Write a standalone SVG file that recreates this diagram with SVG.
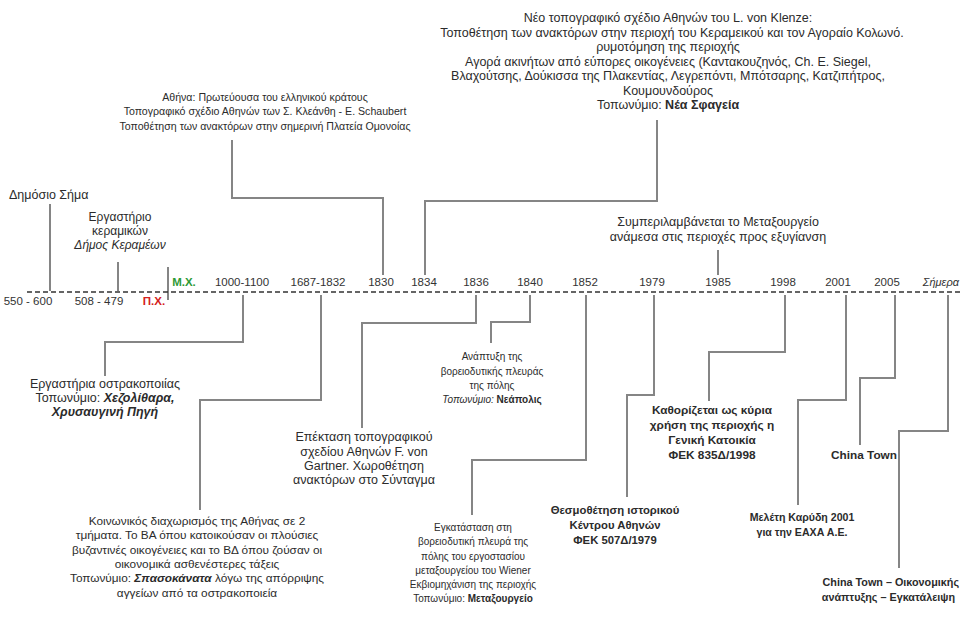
<svg xmlns="http://www.w3.org/2000/svg" width="962" height="618" viewBox="0 0 962 618">
<style>
text{font-family:"Liberation Sans",Arial,sans-serif;font-size:10px;fill:#2b2b2b}
.c{text-anchor:middle}
.b{font-weight:bold}
.i{font-style:italic}
.yr{font-size:11.5px;text-anchor:middle;fill:#333}
.conn polyline,.conn line{fill:none;stroke:#858585;stroke-width:2}
</style>
<rect width="962" height="618" fill="#ffffff"/>
<g id="connectors" class="conn">
<line x1="50" y1="204" x2="50" y2="291"/>
<line x1="118" y1="262" x2="118" y2="291"/>
<line x1="168" y1="267" x2="168" y2="300"/>
<polyline points="232,140 232,198 383,198 383,275"/>
<polyline points="657,120 657,201 425,201 425,275"/>
<line x1="718" y1="250" x2="718" y2="275"/>
<polyline points="243,295 243,342 105,342 105,376"/>
<polyline points="321,295 321,400 200,400 200,510"/>
<polyline points="476,295 476,323 362,323 362,428"/>
<polyline points="530,295 530,322 491,322 491,343"/>
<polyline points="586,295 586,460 472,460 472,515"/>
<polyline points="654,295 654,395 627,395 627,497"/>
<polyline points="785,295 785,352 709,352 709,401"/>
<polyline points="846,295 846,400 798,400 798,505"/>
<polyline points="895,295 895,378 860,378 860,445"/>
<polyline points="948,295 948,431 899,431 899,568"/>
</g>
<g id="axis">
<line x1="27" y1="292" x2="962" y2="292" stroke="#333" stroke-width="1.6" stroke-dasharray="5 3"/>
<text x="28" y="305" class="yr">550 - 600</text>
<text x="99" y="305" class="yr">508 - 479</text>
<text x="154" y="305" class="yr b" style="fill:#d42020">Π.Χ.</text>
<text x="184" y="286" class="yr b" style="fill:#2e9a36">Μ.Χ.</text>
<text x="242" y="286" class="yr">1000-1100</text>
<text x="318" y="286" class="yr">1687-1832</text>
<text x="381" y="286" class="yr">1830</text>
<text x="424" y="286" class="yr">1834</text>
<text x="476" y="286" class="yr">1836</text>
<text x="530" y="286" class="yr">1840</text>
<text x="585" y="286" class="yr">1852</text>
<text x="652" y="286" class="yr">1979</text>
<text x="718" y="286" class="yr">1985</text>
<text x="783" y="286" class="yr">1998</text>
<text x="838" y="286" class="yr">2001</text>
<text x="887" y="286" class="yr">2005</text>
<text x="959" y="286" class="i" style="fill:#333;font-size:11px;text-anchor:end">Σήμερα</text>
</g>
<g id="n-klenze">
<text x="668" y="22" class="c" style="font-size:12.5px">Νέο τοπογραφικό σχέδιο Αθηνών του L. von Klenze:</text>
<text x="672" y="36.5" class="c" style="font-size:12.5px">Τοποθέτηση των ανακτόρων στην περιοχή του Κεραμεικού και τον Αγοραίο Κολωνό.</text>
<text x="668" y="51" class="c" style="font-size:12.5px">ρυμοτόμηση της περιοχής</text>
<text x="668" y="65.5" class="c" style="font-size:12.5px">Αγορά ακινήτων από εύπορες οικογένειες (Καντακουζηνός, Ch. E. Siegel,</text>
<text x="668" y="80" class="c" style="font-size:12.5px">Βλαχούτσης, Δούκισσα της Πλακεντίας, Λεγρεπόντι, Μπότσαρης, Κατζιπήτρος,</text>
<text x="668" y="94.5" class="c" style="font-size:12.5px">Κουμουνδούρος</text>
<text x="668" y="109" class="c" style="font-size:12.5px">Τοπωνύμιο: <tspan class="b">Νέα Σφαγεία</tspan></text>
</g>
<g id="n-kleanthis">
<text x="265" y="101" class="c" style="font-size:10.6px">Αθήνα: Πρωτεύουσα του ελληνικού κράτους</text>
<text x="265" y="115" class="c" style="font-size:10.6px">Τοπογραφικό σχέδιο Αθηνών των Σ. Κλεάνθη - Ε. Schaubert</text>
<text x="265" y="130" class="c" style="font-size:10.6px">Τοποθέτηση των ανακτόρων στην σημερινή Πλατεία Ομονοίας</text>
</g>
<g id="n-sima">
<text x="9" y="199" style="font-size:12.5px">Δημόσιο Σήμα</text>
</g>
<g id="n-ergastirio">
<text x="120" y="221" class="c" style="font-size:12px">Εργαστήριο</text>
<text x="120" y="235" class="c" style="font-size:12px">κεραμικών</text>
<text x="120" y="249" class="c i" style="font-size:12px">Δήμος Κεραμέων</text>
</g>
<g id="n-metaxourgeio-exygiansi">
<text x="718" y="226" class="c" style="font-size:12.5px">Συμπεριλαμβάνεται το Μεταξουργείο</text>
<text x="718" y="241" class="c" style="font-size:12.5px">ανάμεσα στις περιοχές προς εξυγίανση</text>
</g>
<g id="n-ostrakopoiia">
<text x="105" y="388" class="c" style="font-size:12.5px">Εργαστήρια οστρακοποιίας</text>
<text x="105" y="402" class="c" style="font-size:12.5px">Τοπωνύμιο: <tspan class="b i">Χεζολίθαρα,</tspan></text>
<text x="105" y="416" class="c b i" style="font-size:12.5px">Χρυσαυγινή Πηγή</text>
</g>
<g id="n-diaxorismos">
<text x="197" y="525" class="c" style="font-size:11.8px">Κοινωνικός διαχωρισμός της Αθήνας σε 2</text>
<text x="197" y="539" class="c" style="font-size:11.8px">τμήματα. Το ΒΑ όπου κατοικούσαν οι πλούσιες</text>
<text x="197" y="554" class="c" style="font-size:11.8px">βυζαντινές οικογένειες και το ΒΔ όπου ζούσαν οι</text>
<text x="197" y="568" class="c" style="font-size:11.8px">οικονομικά ασθενέστερες τάξεις</text>
<text x="197" y="582" class="c" style="font-size:11.8px">Τοπωνύμιο: <tspan class="b i">Σπασοκάνατα</tspan> λόγω της απόρριψης</text>
<text x="197" y="597" class="c" style="font-size:11.8px">αγγείων από τα οστρακοποιεία</text>
</g>
<g id="n-gartner">
<text x="364" y="441" class="c" style="font-size:12.5px">Επέκταση τοπογραφικού</text>
<text x="364" y="456" class="c" style="font-size:12.5px">σχεδίου Αθηνών F. von</text>
<text x="364" y="470" class="c" style="font-size:12.5px">Gartner. Χωροθέτηση</text>
<text x="364" y="484" class="c" style="font-size:12.5px">ανακτόρων στο Σύνταγμα</text>
</g>
<g id="n-neapolis">
<text x="492" y="360" class="c">Ανάπτυξη της</text>
<text x="492" y="375" class="c">βορειοδυτικής πλευράς</text>
<text x="492" y="389" class="c">της πόλης</text>
<text x="492" y="403" class="c"><tspan class="i">Τοπωνύμιο:</tspan> <tspan class="b">Νεάπολις</tspan></text>
</g>
<g id="n-metaxourgeio">
<text x="473" y="531" class="c">Εγκατάσταση στη</text>
<text x="473" y="545" class="c">βορειοδυτική πλευρά της</text>
<text x="473" y="560" class="c">πόλης του εργοστασίου</text>
<text x="473" y="574" class="c">μεταξουργείου του Wiener</text>
<text x="473" y="588" class="c">Εκβιομηχάνιση της περιοχής</text>
<text x="473" y="602" class="c">Τοπωνύμιο: <tspan class="b">Μεταξουργείο</tspan></text>
</g>
<g id="n-istoriko">
<text x="615" y="514" class="c b" style="font-size:11.3px">Θεσμοθέτηση ιστορικού</text>
<text x="615" y="529" class="c b" style="font-size:11.3px">Κέντρου Αθηνών</text>
<text x="615" y="544" class="c b" style="font-size:11.3px">ΦΕΚ 507Δ/1979</text>
</g>
<g id="n-katoikia">
<text x="712" y="414" class="c b" style="font-size:11.8px">Καθορίζεται ως κύρια</text>
<text x="712" y="429" class="c b" style="font-size:11.8px">χρήση της περιοχής η</text>
<text x="712" y="444" class="c b" style="font-size:11.8px">Γενική Κατοικία</text>
<text x="712" y="459" class="c b" style="font-size:11.8px">ΦΕΚ 835Δ/1998</text>
</g>
<g id="n-karydi">
<text x="802" y="521" class="c b" style="font-size:10.6px">Μελέτη Καρύδη 2001</text>
<text x="802" y="536" class="c b" style="font-size:10.6px">για την ΕΑΧΑ Α.Ε.</text>
</g>
<g id="n-chinatown">
<text x="864" y="459" class="c b" style="font-size:11.8px">China Town</text>
</g>
<g id="n-simera">
<text x="959" y="586" class="b" style="font-size:10.8px;text-anchor:end">China Town – Οικονομικής</text>
<text x="955" y="601" class="b" style="font-size:10.8px;text-anchor:end">ανάπτυξης – Εγκατάλειψη</text>
</g>
</svg>
